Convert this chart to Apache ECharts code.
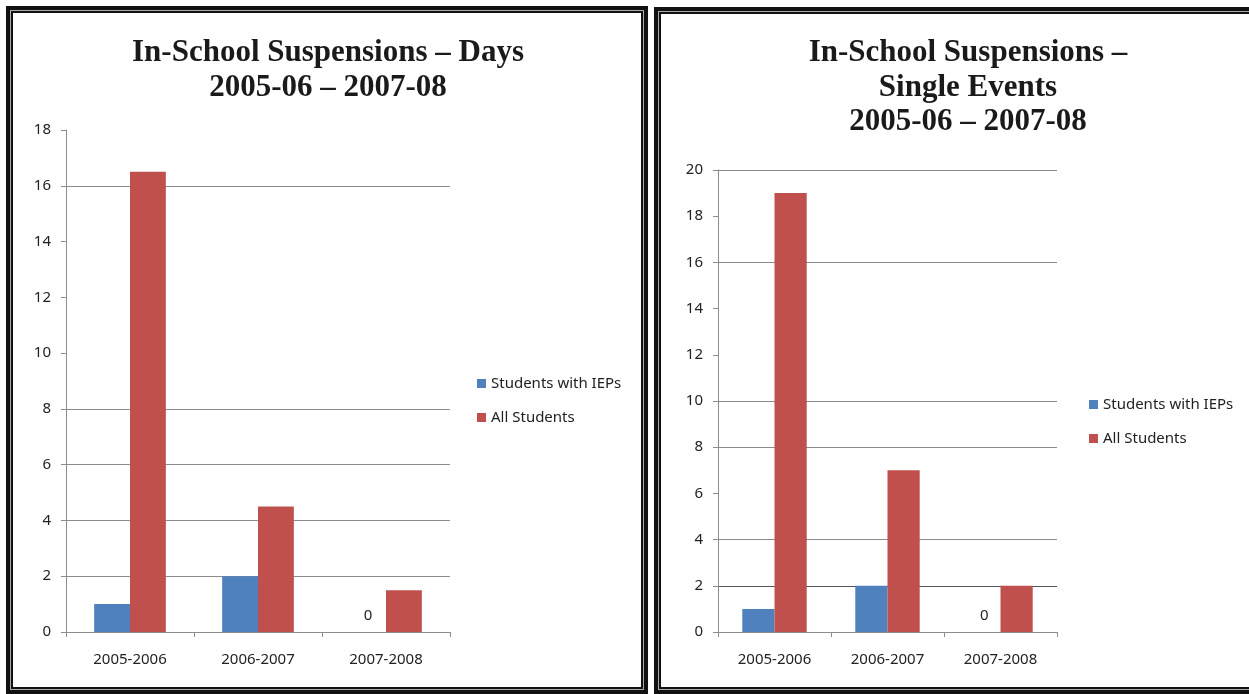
<!DOCTYPE html>
<html>
<head>
<meta charset="utf-8">
<script src="https://cdn.jsdelivr.net/npm/echarts@6/dist/echarts.min.js"></script>
<style>
  html, body { margin: 0; padding: 0; width: 1249px; height: 694px; overflow: hidden; background: #fff; }
  .frame { position: absolute; box-sizing: border-box; border: 4px solid #111; box-shadow: inset 0 0 0 1px #aaa, inset 0 0 0 3px #111; }
  .chart { position: absolute; top: 0; height: 694px; }
</style>
</head>
<body>
<div class="frame" style="left:6px;top:6px;width:642px;height:688px;"></div>
<div class="frame" style="left:654px;top:7px;width:620px;height:687px;"></div>
<div id="daysChart" class="chart" style="left:0;width:656px;"></div>
<div id="eventsChart" class="chart" style="left:660px;width:616px;"></div>
<script>
const years = ['2005-2006', '2006-2007', '2007-2008'];
const seriesNames = ['Students with IEPs', 'All Students'];

// In-School Suspensions - Days
const daysIep = [1, 2, 0];
const daysAll = [16.5, 4.5, 1.5];

// In-School Suspensions - Single Events
const eventsIep = [1, 2, 0];
const eventsAll = [19, 7, 2];

const BLUE = '#4F81BD';
const RED = '#C0504D';
const GRID = '#8c8c8c';
const NONE = 'rgba(0,0,0,0)';

const labelFont = 'Noto Sans';

// Excel-style zero label: only the zero value gets a label
const withZeroLabel = (arr) => arr.map(v => v === 0
  ? { value: v, label: { show: true, position: 'top', distance: 9, color: '#222', fontSize: 15, fontFamily: labelFont } }
  : v);

const buildOption = ({ title, grid, legendPos, yMax, splitColors, iep, all, gap }) => ({
  animation: false,
  backgroundColor: 'transparent',
  title: {
    text: title,
    left: 'center',
    top: grid.titleTop,
    padding: 0,
    textStyle: {
      fontFamily: 'Liberation Serif',
      fontWeight: 'bold',
      fontSize: 31,
      lineHeight: 34.5,
      color: '#1a1a1a'
    }
  },
  legend: {
    orient: 'vertical',
    left: legendPos.left,
    top: legendPos.top,
    padding: 0,
    itemWidth: 9,
    itemHeight: 9,
    itemGap: 19,
    icon: 'rect',
    data: seriesNames,
    textStyle: { fontFamily: labelFont, fontSize: 15, color: '#222' }
  },
  grid: { left: grid.left, top: grid.top, width: grid.width, height: grid.height },
  xAxis: {
    type: 'category',
    data: years,
    axisLine: { lineStyle: { color: GRID } },
    axisTick: { show: true, length: 5, lineStyle: { color: GRID } },
    axisLabel: { margin: 20, fontFamily: labelFont, fontSize: 15, color: '#222' }
  },
  yAxis: {
    type: 'value',
    min: 0,
    max: yMax,
    interval: 2,
    axisLine: { show: true, lineStyle: { color: GRID } },
    axisTick: { show: true, length: 5, lineStyle: { color: GRID } },
    axisLabel: { margin: 15, fontFamily: labelFont, fontSize: 15, color: '#222' },
    splitLine: { show: true, lineStyle: { color: splitColors, width: 1 } }
  },
  series: [
    {
      name: seriesNames[0],
      type: 'bar',
      data: withZeroLabel(iep),
      itemStyle: { color: BLUE },
      barGap: '0%',
      barCategoryGap: gap
    },
    {
      name: seriesNames[1],
      type: 'bar',
      data: all,
      itemStyle: { color: RED },
      barGap: '0%',
      barCategoryGap: gap
    }
  ]
});

const daysChart = echarts.init(document.getElementById('daysChart'));
daysChart.setOption(buildOption({
  title: 'In-School Suspensions – Days\n2005-06 – 2007-08',
  grid: { left: 66, top: 130, width: 384, height: 502, titleTop: 36 },
  legendPos: { left: 477, top: 376 },
  yMax: 18,
  splitColors: [NONE, GRID, GRID, GRID, GRID, NONE, NONE, NONE, GRID, NONE],
  iep: daysIep,
  all: daysAll,
  gap: '44%'
}));

const eventsChart = echarts.init(document.getElementById('eventsChart'));
eventsChart.setOption(buildOption({
  title: 'In-School Suspensions –\nSingle Events\n2005-06 – 2007-08',
  grid: { left: 58, top: 170, width: 339, height: 462, titleTop: 36 },
  legendPos: { left: 429, top: 397 },
  yMax: 20,
  splitColors: [NONE, '#555', GRID, NONE, GRID, GRID, NONE, NONE, GRID, NONE, GRID],
  iep: eventsIep,
  all: eventsAll,
  gap: '43%'
}));
</script>
</body>
</html>
